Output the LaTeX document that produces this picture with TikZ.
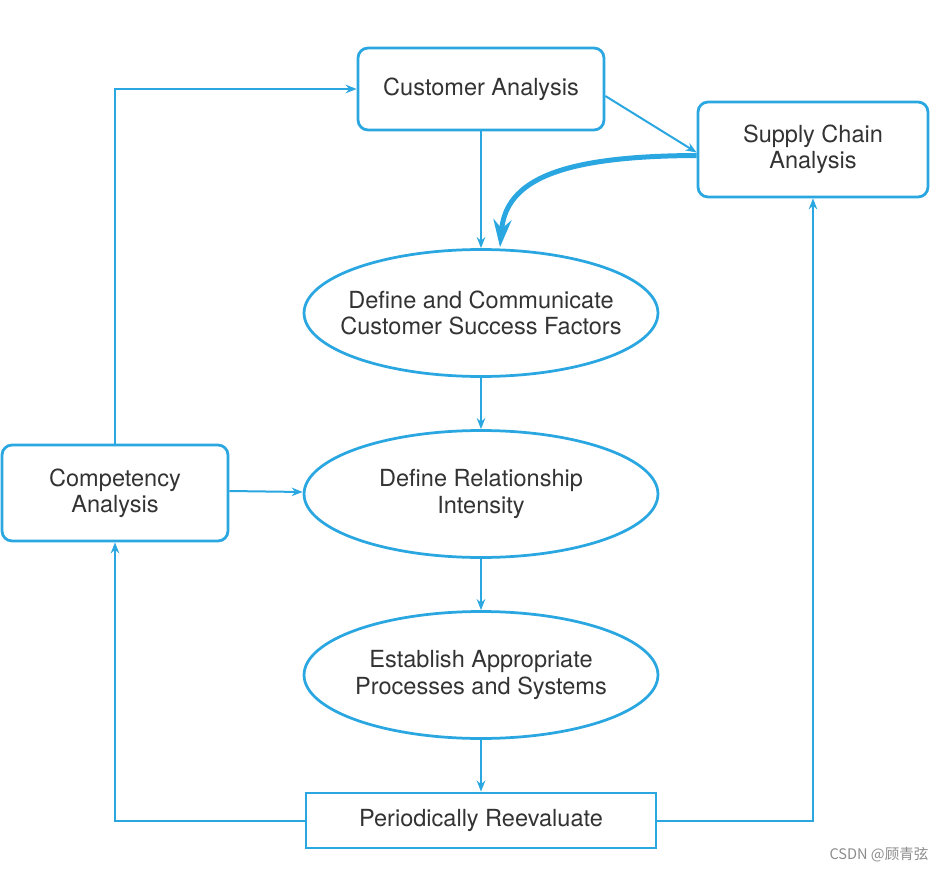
\documentclass[tikz,border=0pt]{standalone}
\usepackage{fontspec}
\setmainfont{TeX Gyre Heros}
\newfontfamily\cjkfont{Noto Sans CJK SC}
\usetikzlibrary{shapes.geometric,arrows.meta,calc}
\definecolor{flowblue}{HTML}{2AA6E0}
\definecolor{txtgray}{HTML}{333333}
\tikzset{
  boxnode/.style={draw=flowblue, line width=0.055cm, rounded corners=0.2cm, align=center, inner sep=0pt, text=txtgray, font=\fontsize{13.4}{15}\selectfont},
  sqnode/.style={draw=flowblue, line width=0.055cm, align=center, inner sep=0pt, text=txtgray, font=\fontsize{13.4}{15}\selectfont},
  ellnode/.style={draw=flowblue, line width=0.055cm, ellipse, align=center, inner xsep=-0.9cm, inner ysep=0pt, text=txtgray, font=\fontsize{13.4}{15}\selectfont, minimum width=7.08cm, minimum height=2.54cm},
  conn/.style={draw=flowblue, line width=0.04cm, -{Stealth[length=0.22cm,width=0.17cm]}},
  thickconn/.style={draw=flowblue, line width=0.1cm, -{Stealth[length=0.55cm,width=0.36cm]}}
}
\begin{document}
\begin{tikzpicture}[x=0.02cm,y=-0.02cm]
\useasboundingbox (0,0) rectangle (944,872);
\node[boxnode, minimum width=4.92cm, minimum height=1.64cm] (ca) at (481,89) {Customer Analysis};
\node[boxnode, minimum width=4.6cm, minimum height=1.9cm] (sc) at (813,149.5) {Supply Chain\\Analysis};
\node[ellnode] (e1) at (481,313) {Define and Communicate\\Customer Success Factors};
\node[ellnode] (e2) at (481,494) {Define Relationship\\Intensity};
\node[ellnode] (e3) at (481,675) {Establish Appropriate\\Processes and Systems};
\node[sqnode, minimum width=7.0cm, minimum height=1.1cm] (pr) at (481,820.5) {Periodically Reevaluate};
\node[boxnode, minimum width=4.52cm, minimum height=1.92cm] (co) at (115,493) {Competency\\Analysis};
\node[text=black!45, font=\cjkfont\fontsize{8.3}{10}\selectfont] (wm) at (879,855) {CSDN @顾青弦};

\coordinate (capin) at (115,89);
\coordinate (prl) at (115,820.5);
\coordinate (prr) at (813,820.5);

\draw[conn] (ca.south) -- (e1.north);
\draw[conn] ($(ca.east)+(0,7)$) -- ($(sc.west)+(0,3)$);
\draw[thickconn] ($(sc.west)+(0,6)$) .. controls (560,156) and (506,180) .. ($(e1.north)+(19,-1)$);
\draw[conn] (e1.south) -- (e2.north);
\draw[conn] (e2.south) -- (e3.north);
\draw[conn] (e3.south) -- (pr.north);
\draw[conn] (pr.west) -- (prl) -- (co.south);
\draw[conn] (pr.east) -- (prr) -- (sc.south);
\draw[conn] (co.north) -- (capin) -- (ca.west);
\draw[conn] ($(co.east)+(0,-2)$) -- ($(e2.west)+(0,-2)$);
\end{tikzpicture}
\end{document}
